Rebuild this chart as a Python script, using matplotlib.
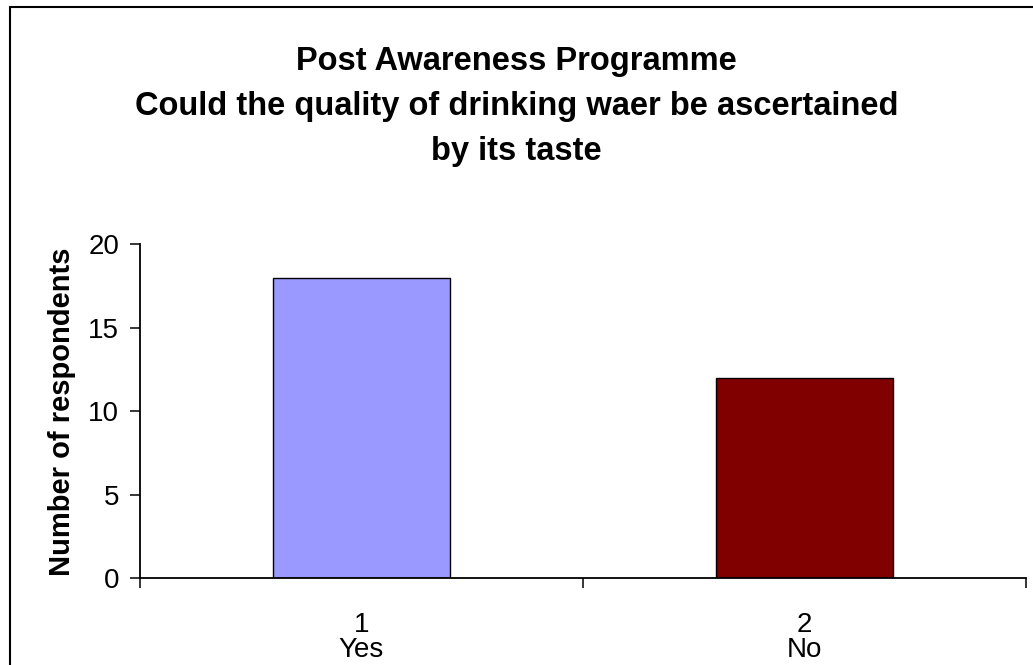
import numpy as np
import matplotlib.pyplot as plt
from matplotlib.patches import Rectangle

# Data
categories = ['1\nYes', '2\nNo']
respondents = [18, 12]
bar_colors = ['#9999FF', '#800000']

title_lines = ['Post Awareness Programme',
               'Could the quality of drinking waer be ascertained',
               'by its taste']

plt.rcParams['font.family'] = ['Liberation Sans', 'DejaVu Sans']

fig = plt.figure(figsize=(10.33, 6.65), dpi=100)
ax = fig.add_axes([140 / 1033, 1 - 578.3 / 665, 885.7 / 1033, 334 / 665])

x = np.arange(1, len(respondents) + 1)
ax.bar(x, respondents, width=0.4, color=bar_colors, edgecolor='black', linewidth=1.0, zorder=2)

ax.set_xlim(0.5, len(respondents) + 0.5)
ax.set_ylim(0, 20)
ax.set_yticks([0, 5, 10, 15, 20])

# category boundaries get tick marks, labels sit under the bars
ax.set_xticks(np.arange(0.5, len(respondents) + 1, 1.0))
ax.set_xticklabels([])
ax.set_xticks(x, minor=True)
ax.set_xticklabels(categories, minor=True, fontsize=20, linespacing=0.95)
ax.tick_params(axis='x', which='minor', length=0, pad=24)
ax.tick_params(axis='x', which='major', length=7, width=1.1, direction='out')
ax.tick_params(axis='y', length=7, width=1.1, labelsize=20, pad=8)

for side in ['top', 'right']:
    ax.spines[side].set_visible(False)
for side in ['left', 'bottom']:
    ax.spines[side].set_linewidth(1.3)

ax.set_ylabel('Number of respondents', fontsize=21, fontweight='bold', labelpad=9)

fig.text(0.5, 1 - 46 / 665, '\n'.join(title_lines), ha='center', va='top',
         fontsize=23.5, fontweight='bold', linespacing=1.58)

# outer chart border
fig.add_artist(Rectangle((10 / 1033, -0.05), 1.2, 1 - 7 / 665 + 0.05,
                         transform=fig.transFigure, fill=False,
                         edgecolor='black', linewidth=1.5))

fig.savefig('out.png', dpi=100)
